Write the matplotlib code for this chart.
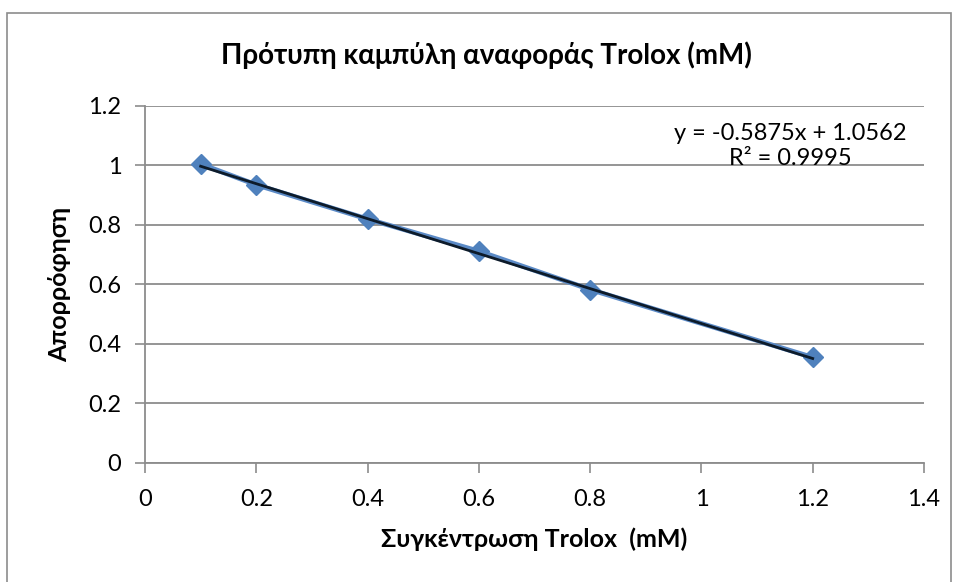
import numpy as np
import matplotlib.pyplot as plt
from matplotlib.patches import Rectangle

conc = [0.1, 0.2, 0.4, 0.6, 0.8, 1.2]
absorb = [1.005, 0.935, 0.82, 0.712, 0.583, 0.355]
slope, intercept = -0.5875, 1.0562

plt.rcParams['font.family'] = ['Lato', 'DejaVu Sans']

fig = plt.figure(figsize=(9.56, 5.82), dpi=100)
fig.patches.append(Rectangle((7 / 956, -0.01), 944 / 956, 1 - 13 / 582 + 0.01,
                             transform=fig.transFigure, fill=False,
                             edgecolor='#8c8c8c', linewidth=1.2))

ax = fig.add_axes([0.1517, 0.2045, 0.8148, 0.6134])

# data line + diamonds
ax.plot(conc, absorb, color='#5b8ac6', linewidth=3.5, marker='D',
        markersize=10, markerfacecolor='#4F81BD', markeredgecolor='#4F81BD', zorder=3)
# linear trendline
xt = np.array([conc[0], conc[-1]])
ax.plot(xt, slope * xt + intercept, color='#0d1b2a', linewidth=2, zorder=4)

ax.set_xlim(0, 1.4)
ax.set_ylim(0, 1.2)
ax.set_xticks(np.arange(0, 1.41, 0.2))
ax.set_yticks(np.arange(0, 1.21, 0.2))
ax.set_xticklabels(['0', '0.2', '0.4', '0.6', '0.8', '1', '1.2', '1.4'])
ax.set_yticklabels(['0', '0.2', '0.4', '0.6', '0.8', '1', '1.2'])
ax.yaxis.grid(True, color='#8c8c8c', linewidth=1.3)
ax.set_axisbelow(True)
for s in ['top', 'right']:
    ax.spines[s].set_visible(False)
for s in ['left', 'bottom']:
    ax.spines[s].set_color('#8c8c8c')
    ax.spines[s].set_linewidth(1.3)
ax.tick_params(axis='both', colors='#8c8c8c', labelcolor='black', labelsize=17,
               length=7, width=1.2, direction='out')
ax.tick_params(axis='x', pad=12)
ax.tick_params(axis='y', pad=10)

ax.set_xlabel('Συγκέντρωση Trolox  (mM)', fontsize=18, fontweight='bold', labelpad=12)
ax.set_ylabel('Απορρόφηση', fontsize=18, fontweight='bold', labelpad=12)
fig.text(0.509, 1 - 55 / 582, 'Πρότυπη καμπύλη αναφοράς Trolox (mM)',
         ha='center', va='center', fontsize=20, fontweight='bold')

fig.text(790 / 956, 1 - 133 / 582, 'y = -0.5875x + 1.0562', ha='center', va='center', fontsize=17)
fig.text(790 / 956, 1 - 159 / 582, 'R² = 0.9995', ha='center', va='center', fontsize=17)

fig.savefig('out.png', dpi=100)
